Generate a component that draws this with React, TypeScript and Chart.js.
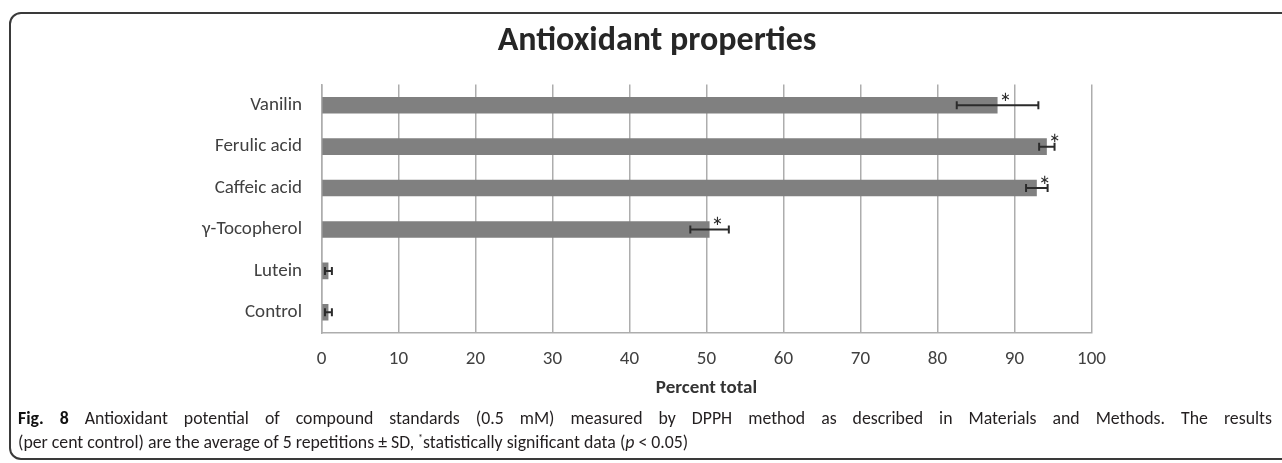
import React, { useEffect, useRef } from "react";
import { Chart, registerables } from "chart.js";

Chart.register(...registerables);

const categories = ["Vanilin", "Ferulic acid", "Caffeic acid", "γ-Tocopherol", "Lutein", "Control"];
const meanValues = [87.8, 94.2, 92.9, 50.4, 0.9, 0.9];
const sdValues = [5.3, 1.0, 1.4, 2.5, 0.45, 0.45];
const significant = [true, true, true, true, false, false];
const xMin = 0;
const xMax = 100;
const xStep = 10;
const chartTitle = "Antioxidant properties";
const xAxisTitle = "Percent total";

const FONT = "Carlito, Lato, sans-serif";

const errorBarPlugin = {
  id: "errorBars",
  afterDatasetsDraw(chart: any) {
    const { ctx } = chart;
    const xs = chart.scales.x;
    const meta = chart.getDatasetMeta(0);
    ctx.save();
    ctx.strokeStyle = "#2b2b2b";
    ctx.fillStyle = "#2b2b2b";
    ctx.lineWidth = 2;
    meta.data.forEach((el: any, i: number) => {
      const y = el.y;
      const lo = xs.getPixelForValue(meanValues[i] - sdValues[i]);
      const hi = xs.getPixelForValue(meanValues[i] + sdValues[i]);
      ctx.beginPath();
      ctx.moveTo(lo, y);
      ctx.lineTo(hi, y);
      ctx.moveTo(lo, y - 4);
      ctx.lineTo(lo, y + 4);
      ctx.moveTo(hi, y - 4);
      ctx.lineTo(hi, y + 4);
      ctx.stroke();
      if (significant[i]) {
        ctx.font = `26px ${FONT}`;
        ctx.textAlign = "center";
        ctx.textBaseline = "alphabetic";
        ctx.fillText("*", el.x + 8, y - el.height / 2 + 15);
      }
    });
    ctx.restore();
  },
};

export default function App() {
  const canvasRef = useRef<HTMLCanvasElement | null>(null);

  useEffect(() => {
    if (!canvasRef.current) return;
    const chart = new Chart(canvasRef.current, {
      type: "bar",
      data: {
        labels: categories,
        datasets: [
          {
            data: meanValues,
            backgroundColor: "#808080",
            borderWidth: 0,
            categoryPercentage: 0.8,
            barPercentage: 0.5,
          },
        ],
      },
      options: {
        indexAxis: "y",
        responsive: false,
        animation: false,
        layout: { padding: { left: 0, right: 190.5, top: 84.5, bottom: 60 } },
        plugins: {
          legend: { display: false },
          tooltip: { enabled: false },
          title: { display: false },
        },
        scales: {
          x: {
            min: xMin,
            max: xMax,
            ticks: {
              stepSize: xStep,
              padding: 14.6,
              color: "#404040",
              font: { family: FONT, size: 19 },
            },
            grid: { color: "#adadad", lineWidth: 1.5, drawTicks: false },
            border: { display: true, color: "#adadad", width: 1.5 },
            title: {
              display: true,
              text: xAxisTitle,
              color: "#333333",
              font: { family: FONT, size: 19, weight: "bold" },
              padding: { top: 0, bottom: 3.6 },
            },
            afterFit(scale: any) {
              scale.height = 70;
            },
          },
          y: {
            ticks: {
              padding: 19.5,
              color: "#404040",
              font: { family: FONT, size: 19 },
            },
            grid: { display: false, drawTicks: false },
            border: { display: true, color: "#adadad", width: 1.5 },
            afterFit(scale: any) {
              scale.width = 321.5;
            },
          },
        },
      },
      plugins: [errorBarPlugin],
    } as any);
    return () => chart.destroy();
  }, []);

  return (
    <div
      style={{
        position: "fixed",
        left: 0,
        top: 0,
        width: 1282,
        height: 463,
        overflow: "hidden",
        background: "#ffffff",
        fontFamily: FONT,
      }}
    >
      <div
        style={{
          position: "absolute",
          left: 9,
          top: 12,
          width: 1320,
          height: 448,
          border: "2px solid #3a3a3a",
          borderRadius: 12,
          boxSizing: "border-box",
        }}
      />
      <canvas
        ref={canvasRef}
        width={1282}
        height={463}
        style={{ position: "absolute", left: 0, top: 0, width: 1282, height: 463 }}
      />
      <div
        style={{
          position: "absolute",
          left: 407,
          top: 18.5,
          width: 500,
          textAlign: "center",
          fontSize: 34,
          lineHeight: "40px",
          fontWeight: "bold",
          color: "#262626",
          whiteSpace: "nowrap",
        }}
      >
        {chartTitle}
      </div>
      <div
        style={{
          position: "absolute",
          left: 18,
          top: 406,
          width: 1254,
          fontSize: 17.8,
          lineHeight: "24px",
          color: "#231f20",
        }}
      >
        <div style={{ textAlign: "justify", textAlignLast: "justify" as any, height: 24 }}>
          <b style={{ color: "#111" }}>Fig. 8</b> Antioxidant potential of compound standards (0.5 mM) measured by DPPH method as described in Materials and Methods. The results
        </div>
        <div style={{ whiteSpace: "nowrap" }}>
          (per cent control) are the average of 5 repetitions ± SD, <sup style={{ fontSize: 10, lineHeight: 0 }}>*</sup>statistically significant data (<i>p</i> &lt; 0.05)
        </div>
      </div>
    </div>
  );
}
